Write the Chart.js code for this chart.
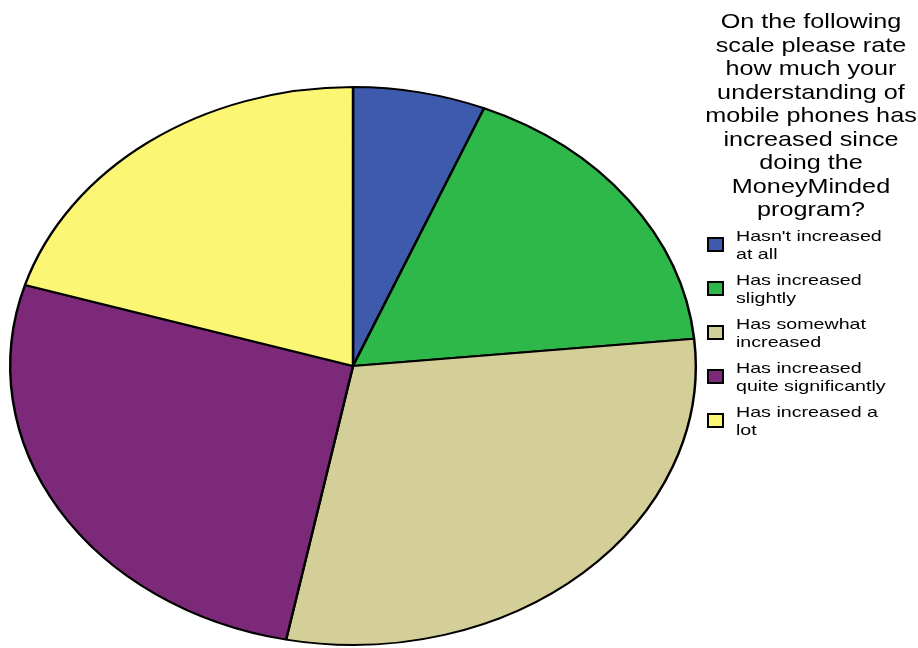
<!DOCTYPE html>
<html>
<head>
<meta charset="utf-8">
<script src="https://cdn.jsdelivr.net/npm/chart.js@4/dist/chart.umd.min.js"></script>
<style>
  body { margin: 0; background: #fff; }
  #wrap { position: relative; width: 918px; height: 648px; overflow: hidden; }
  #pieChart { position: absolute; left: 0; top: 0; }
  #legendTitle {
    position: absolute; left: 711px; top: 9px; width: 200px;
    font-family: "Liberation Sans", Arial, sans-serif; font-size: 21px; line-height: 23.5px;
    text-align: center; color: #000;
    transform: scaleX(1.2); transform-origin: center top;
  }
  .item { position: absolute; left: 707px; height: 40px; }
  .item .box {
    position: absolute; left: 0; top: 10px; width: 13px; height: 11px;
    border: 2px solid #000;
  }
  .item .txt {
    position: absolute; left: 29px; top: 0; white-space: nowrap;
    font-family: "Liberation Sans", Arial, sans-serif; font-size: 15px; line-height: 17.5px;
    color: #000; transform: scaleX(1.31); transform-origin: left top;
  }
</style>
</head>
<body>
<div id="wrap">
  <canvas id="pieChart" width="918" height="648"></canvas>
  <div id="legendTitle"></div>
  <div id="legendItems"></div>
</div>
<script>
// survey answers (counts per category)
const categories = [
  ["Hasn't increased", "at all"],
  ["Has increased", "slightly"],
  ["Has somewhat", "increased"],
  ["Has increased", "quite significantly"],
  ["Has increased a", "lot"]
];
const counts = [4, 11, 19, 17, 13];
const sliceColors = ['#3e5aac', '#2eb84a', '#d4cf98', '#7b2978', '#fbf775'];
const titleLines = [
  'On the following', 'scale please rate', 'how much your', 'understanding of',
  'mobile phones has', 'increased since', 'doing the', 'MoneyMinded', 'program?'
];

// pie is drawn as a circle and stretched sideways into an ellipse
const xStretch = 344 / 280;

const stretchPie = {
  id: 'stretchPie',
  beforeDatasetsDraw(chart) {
    const arc = chart.getDatasetMeta(0).data[0];
    const ctx = chart.ctx;
    ctx.save();
    ctx.translate(arc.x, arc.y);
    ctx.scale(xStretch, 1);
    ctx.translate(-arc.x, -arc.y);
  },
  afterDatasetsDraw(chart) {
    chart.ctx.restore();
  }
};

const chart = new Chart(document.getElementById('pieChart'), {
  type: 'pie',
  data: {
    labels: categories.map(c => c.join(' ')),
    datasets: [{
      data: counts,
      backgroundColor: sliceColors,
      borderColor: '#000',
      borderWidth: 2
    }]
  },
  options: {
    responsive: false,
    animation: false,
    events: [],
    layout: { padding: { top: 86, bottom: 2, left: 73, right: 285 } },
    plugins: {
      legend: { display: false },
      tooltip: { enabled: false }
    }
  },
  plugins: [stretchPie]
});

// legend on the right
const $title = document.getElementById('legendTitle');
$title.innerHTML = titleLines.join('<br>');

const $items = document.getElementById('legendItems');
for (let i = 0; i < categories.length; i++) {
  const $item = document.createElement('div');
  $item.className = 'item';
  $item.style.top = (227 + i * 44) + 'px';
  const $box = document.createElement('div');
  $box.className = 'box';
  $box.style.background = sliceColors[i];
  const $txt = document.createElement('div');
  $txt.className = 'txt';
  $txt.innerHTML = categories[i].join('<br>');
  $item.append($box, $txt);
  $items.append($item);
}
</script>
</body>
</html>
